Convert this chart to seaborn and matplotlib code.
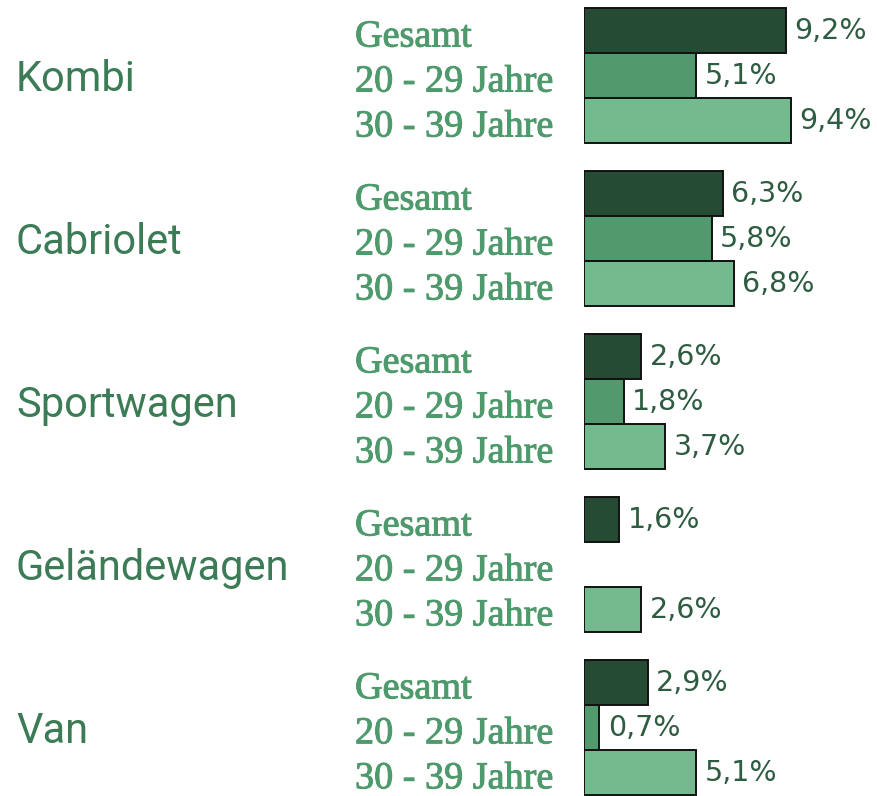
import pandas as pd
import numpy as np
import seaborn as sns
import matplotlib.pyplot as plt
import matplotlib.transforms as mtransforms
import matplotlib.patheffects as pe

# Anteile in Prozent je Fahrzeugtyp und Altersgruppe
categories = ["Kombi", "Cabriolet", "Sportwagen", "Geländewagen", "Van"]
groups = ["Gesamt", "20 - 29 Jahre", "30 - 39 Jahre"]
gesamt = [9.2, 6.3, 2.6, 1.6, 2.9]
jahre_20_29 = [5.1, 5.8, 1.8, np.nan, 0.7]
jahre_30_39 = [9.4, 6.8, 3.7, 2.6, 5.1]

colors = ["#264b35", "#519a6d", "#75b98f"]

df = pd.DataFrame({
    "Typ": categories * 3,
    "Gruppe": [g for g in groups for _ in categories],
    "Wert": gesamt + jahre_20_29 + jahre_30_39,
})

sns.set_theme(style="white")
plt.rcParams["font.family"] = ["Roboto", "DejaVu Sans"]

fig = plt.figure(figsize=(8.77, 7.96), dpi=100)
ax = fig.add_axes([584 / 877, 0, 1 - 584 / 877, 1])

bar_w = 0.828
sns.barplot(data=df, y="Typ", x="Wert", hue="Gruppe", order=categories,
            hue_order=groups, palette=colors, saturation=1, orient="h",
            width=bar_w, errorbar=None, edgecolor="#111111", linewidth=1.4,
            legend=False, ax=ax)

ax.set_xlim(0, (877 - 584) / 22)
ax.set_ylim(4.42, -0.465)
ax.set_axis_off()

# Wertebeschriftung
for cont in ax.containers:
    labels = ["" if np.isnan(v) else f"{v:.1f}".replace(".", ",") + "%"
              for v in cont.datavalues]
    ax.bar_label(cont, labels=labels, padding=6, fontsize=20.5,
                 color="#2d5c41", family="DejaVu Sans")

# Kategorien links und Gruppenbeschriftung
blend = mtransforms.blended_transform_factory(fig.transFigure, ax.transData)
for i, cat in enumerate(categories):
    fig.text(16 / 877, i + 0.025, cat, transform=blend, fontsize=30,
             color="#3b7b55", va="center")
    for j, g in enumerate(groups):
        y = i + (j - 1) * bar_w / 3 + 0.04
        fig.text(355 / 877, y, g, transform=blend, fontsize=27.5,
                 color="#4e9a6c", va="center", family="Liberation Serif",
                 path_effects=[pe.withStroke(linewidth=0.7, foreground="#4e9a6c")])

fig.savefig("out.png", dpi=100)
